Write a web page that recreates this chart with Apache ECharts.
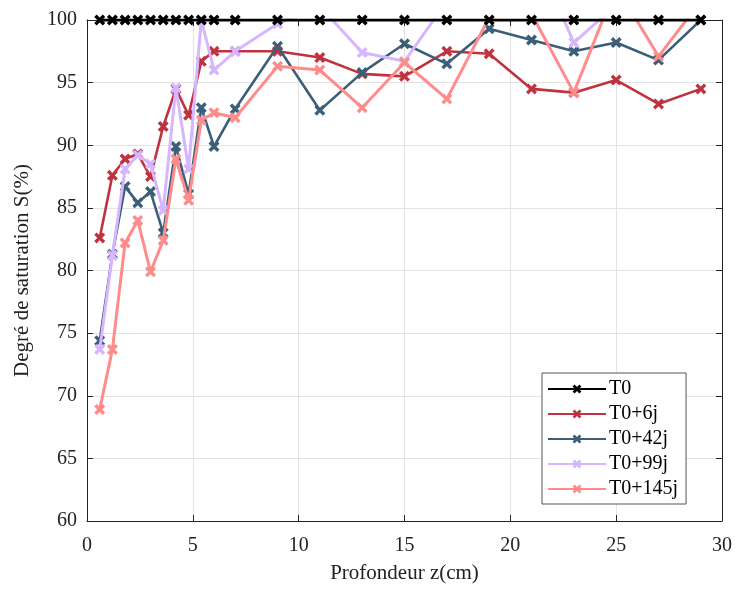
<!DOCTYPE html>
<html>
<head>
<meta charset="utf-8">
<script src="https://cdn.jsdelivr.net/npm/echarts@6/dist/echarts.min.js"></script>
<style>
html,body{margin:0;padding:0;background:#fff;}
#chart{width:736px;height:589px;}
</style>
</head>
<body>
<div id="chart"></div>
<script>
// Depth (cm)
var depth = [0.6,1.2,1.8,2.4,3.0,3.6,4.2,4.8,5.4,6,7,9,11,13,15,17,19,21,23,25,27,29];
// Saturation degree (%) per series (values above 100 are clipped by the axis, as in the original)
var sT0    = [100,100,100,100,100,100,100,100,100,100,100,100,100,100,100,100,100,100,100,100,100,100];
var sT6    = [82.6,87.6,88.9,89.3,87.5,91.5,94.5,92.4,96.7,97.5,97.5,97.5,97.0,95.7,95.5,97.5,97.3,94.5,94.2,95.2,93.3,94.5];
var sT42   = [74.4,81.3,86.7,85.4,86.3,83.0,89.9,86.1,93.0,89.9,92.9,97.9,92.8,95.8,98.1,96.5,99.3,98.4,97.5,98.2,96.8,100.0];
var sT99   = [73.7,81.2,88.1,89.2,88.5,84.8,94.6,88.1,100.0,96.0,97.5,99.7,101.1,97.4,96.7,101.5,101.5,105.9,98.2,101.2,101.0,101.0];
var sT145  = [68.9,73.7,82.2,84.0,79.9,82.4,88.9,85.6,92.0,92.6,92.2,96.3,96.0,93.0,96.6,93.7,100.2,100.5,94.2,102.7,97.1,101.5];
var seriesNames = ['T0','T0+6j','T0+42j','T0+99j','T0+145j'];
var seriesColors = ['#000000','#BF3340','#3C5F79','#D6B6FF','#FF8B8B'];
var xTicks = [0,5,10,15,20,25,30];
var yTicks = [60,65,70,75,80,85,90,95,100];

var xSym = 'path://M0,2.2 L2.2,0 L5,2.8 L7.8,0 L10,2.2 L7.2,5 L10,7.8 L7.8,10 L5,7.2 L2.2,10 L0,7.8 L2.8,5 Z';

function pairs(v){ return depth.map(function(d,i){ return [d, v[i]]; }); }
var allData = [sT0,sT6,sT42,sT99,sT145];
var widths = [3,2.6,2.6,3,3];
var zs = [10,2,3,4,5];

var font = '"Liberation Serif","DejaVu Serif",serif';

var chart = echarts.init(document.getElementById('chart'));
var series = allData.map(function(v,i){
  return {
    name: seriesNames[i],
    type: 'line',
    data: pairs(v),
    xAxisIndex: 0, yAxisIndex: 0,
    symbol: xSym,
    symbolSize: 11,
    showAllSymbol: true,
    clip: true,
    z: zs[i],
    lineStyle: {color: seriesColors[i], width: widths[i]},
    itemStyle: {color: seriesColors[i]},
    emphasis: {disabled: true},
    animation: false
  };
});

chart.setOption({
  animation: false,
  backgroundColor: '#fff',
  grid: {left: 87, right: 14, top: 20, bottom: 65, containLabel: false},
  legend: {
    orient: 'vertical',
    left: 542, top: 373,
    width: 147,
    padding: [6, 8, 5, 5],
    itemWidth: 58, itemHeight: 11,
    itemGap: 5,
    borderColor: '#555', borderWidth: 1,
    backgroundColor: '#fff',
    textStyle: {fontFamily: font, fontSize: 20, color: '#000', lineHeight: 20, padding: [0,0,0,-2]},
    data: seriesNames
  },
  xAxis: [{
    type: 'value', min: 0, max: 30, interval: 5, position: 'bottom',
    name: 'Profondeur z(cm)', nameLocation: 'middle', nameGap: 42,
    nameTextStyle: {fontFamily: font, fontSize: 21, color: '#222'},
    axisLine: {show: true, onZero: false, lineStyle: {color: '#222', width: 1}},
    axisTick: {show: true, inside: true, length: 6, lineStyle: {color: '#222'}},
    axisLabel: {fontFamily: font, fontSize: 20, color: '#222', margin: 15},
    splitLine: {show: true, lineStyle: {color: '#e3e3e3', width: 1}}
  },{
    type: 'value', min: 0, max: 30, interval: 5, position: 'top',
    axisLine: {show: true, onZero: false, lineStyle: {color: '#222', width: 1}},
    axisTick: {show: true, inside: true, length: 6, lineStyle: {color: '#222'}},
    axisLabel: {show: false}, splitLine: {show: false}
  }],
  yAxis: [{
    type: 'value', min: 60, max: 100, interval: 5, position: 'left',
    name: 'Degré de saturation S(%)', nameLocation: 'middle', nameGap: 54,
    nameTextStyle: {fontFamily: font, fontSize: 21, color: '#222'},
    axisLine: {show: true, onZero: false, lineStyle: {color: '#222', width: 1}},
    axisTick: {show: true, inside: true, length: 6, lineStyle: {color: '#222'}},
    axisLabel: {fontFamily: font, fontSize: 20, color: '#222', margin: 10},
    splitLine: {show: true, lineStyle: {color: '#e3e3e3', width: 1}}
  },{
    type: 'value', min: 60, max: 100, interval: 5, position: 'right',
    axisLine: {show: true, onZero: false, lineStyle: {color: '#222', width: 1}},
    axisTick: {show: true, inside: true, length: 6, lineStyle: {color: '#222'}},
    axisLabel: {show: false}, splitLine: {show: false}
  }],
  series: series
});
</script>
</body>
</html>
